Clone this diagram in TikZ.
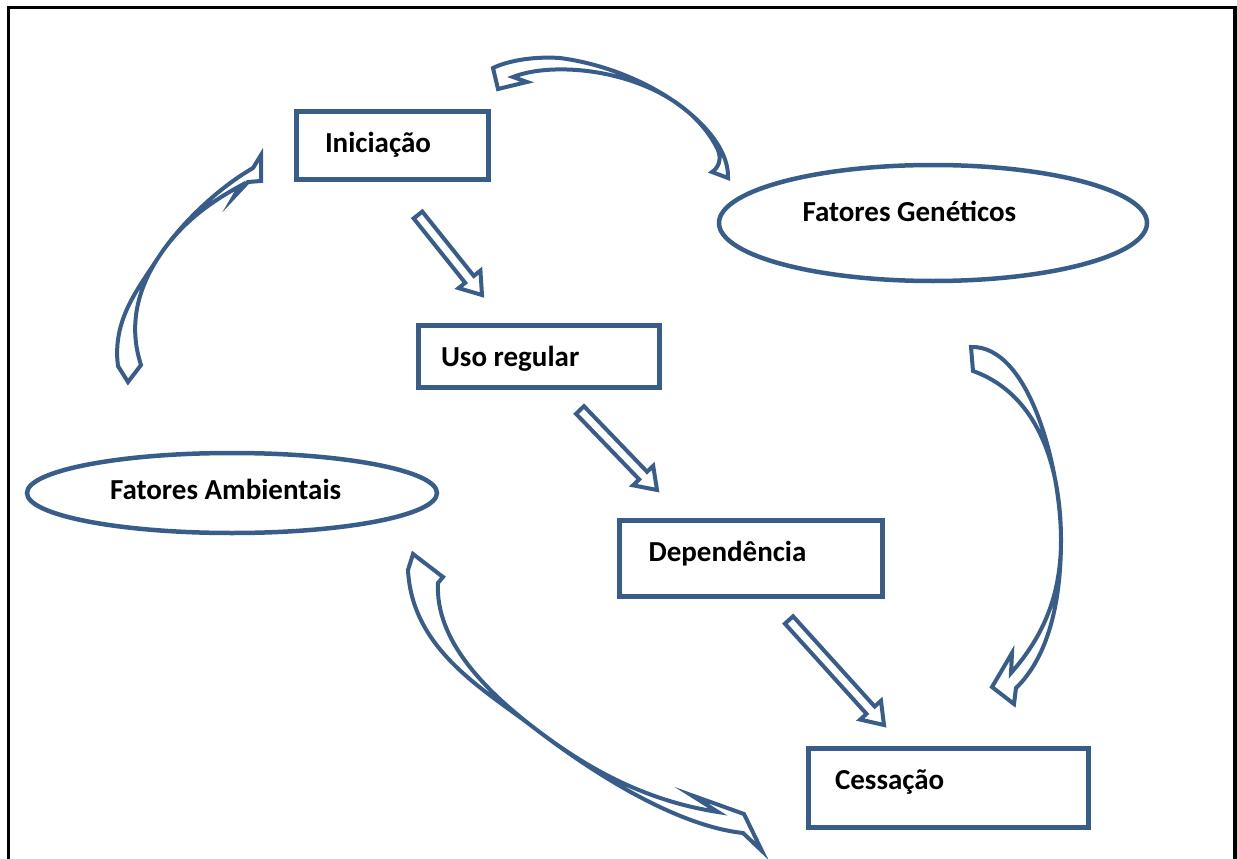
\documentclass[tikz,border=0pt]{standalone}
\usepackage{fontspec}
\setmainfont{Carlito}
\usetikzlibrary{calc,shapes.geometric}

\definecolor{frameblue}{RGB}{56,93,138}

\tikzset{
  stage/.style={draw=frameblue, line width=5pt, rectangle, align=flush left,
    text height=21pt, text depth=7pt, inner ysep=0pt},
  factor/.style={draw=frameblue, line width=4.5pt, ellipse, align=flush left,
    text height=21pt, text depth=7pt, inner sep=0pt},
  hollow/.style={draw=frameblue, line width=4pt, fill=white, line join=miter},
}

% straight hollow arrow from #1 to #2
\newcommand{\shaftarrow}[2]{%
  \draw[hollow] let \p1=($(#2)-(#1)$), \n1={atan2(\y1,\x1)}, \n2={veclen(\x1,\y1)} in
    [shift={(#1)}, rotate=\n1]
    (0,5.5) -- (\n2-20,5.5) -- (\n2-20,14) -- (\n2,0) -- (\n2-20,-14) -- (\n2-20,-5.5) -- (0,-5.5) -- cycle;}

\begin{document}
\begin{tikzpicture}[x=1pt, y=-1pt, font=\fontsize{29}{34}\selectfont\bfseries]

  \useasboundingbox (0,0) rectangle (1237,859);
  \draw[line width=3.5pt] (8.3,880) -- (8.3,7.7) -- (1235,7.7) -- (1235,880);

  \node[stage, minimum width=192pt, minimum height=68pt, text width=134pt, inner xsep=29pt] (ini) at (392,145.5) {Iniciação};
  \node[stage, minimum width=241pt, minimum height=62pt, text width=195pt, inner xsep=23pt, text depth=1pt] (uso) at (538.5,356.5) {Uso regular};
  \node[stage, minimum width=263pt, minimum height=76pt, text width=205pt, inner xsep=29pt, text depth=15pt] (dep) at (751,558.5) {Dependência};
  \node[stage, minimum width=280pt, minimum height=79pt, text width=226pt, inner xsep=27pt, text depth=18pt] (ces) at (948,788) {Cessação};

  \node[factor, minimum width=428pt, minimum height=116pt, text width=261pt, text depth=24pt] (gen) at (933,223) {Fatores Genéticos};
  \node[factor, minimum width=410pt, minimum height=80pt, text width=244pt, text depth=8pt] (amb) at (232,493) {Fatores Ambientais};

  % stages
  \coordinate (a1s) at ([shift={(26,33)}]ini.south);
  \coordinate (a1e) at ([shift={(-56.5,-28)}]uso.north);
  \coordinate (a2s) at ([shift={(41.5,20)}]uso.south);
  \coordinate (a2e) at ([shift={(-94,-28)}]dep.north);
  \coordinate (a3s) at ([shift={(38,21)}]dep.south);
  \coordinate (a3e) at ([shift={(-64,-21)}]ces.north);
  \shaftarrow{a1s}{a1e}
  \shaftarrow{a2s}{a2e}
  \shaftarrow{a3s}{a3e}

  % curved arrows from the factors
  \draw[hollow] (728,178) .. controls (730,130) and (650,70) .. (560,58)
    .. controls (530,56) and (505,62) .. (493,68) -- (498,89) -- (527,82) -- (513,77)
    .. controls (560,58) and (680,72) .. (718,150)
    .. controls (722,160) and (718,168) .. (712,172) -- cycle;
  \draw[hollow] (141,365) -- (128,382) -- (118,366)
    .. controls (112,320) and (138,289) .. (158,258)
    .. controls (178,227) and (215,190) .. (253,168) -- (261,155) -- (261,181) -- (248,182) -- (233,198) -- (240,186)
    .. controls (205,205) and (178,227) .. (158,258)
    .. controls (138,289) and (128,325) .. (141,365) -- cycle;
  \draw[hollow] (971,347) .. controls (1030,345) and (1061,470) .. (1061,540)
    .. controls (1061,610) and (1045,660) .. (1016,688) -- (1014,704) -- (992,687) -- (1012,653) -- (1011,673)
    .. controls (1040,640) and (1061,600) .. (1061,540)
    .. controls (1061,470) and (1040,395) .. (973,371) -- cycle;
  \draw[hollow] (413,554) -- (443,577) -- (438,583)
    .. controls (435,640) and (485,690) .. (533,727)
    .. controls (581,764) and (640,800) .. (718,812) -- (691,795) -- (744,814) -- (762,851) -- (743,833)
    .. controls (670,825) and (581,764) .. (533,727)
    .. controls (485,690) and (412,650) .. (408,570) -- cycle;

\end{tikzpicture}
\end{document}
